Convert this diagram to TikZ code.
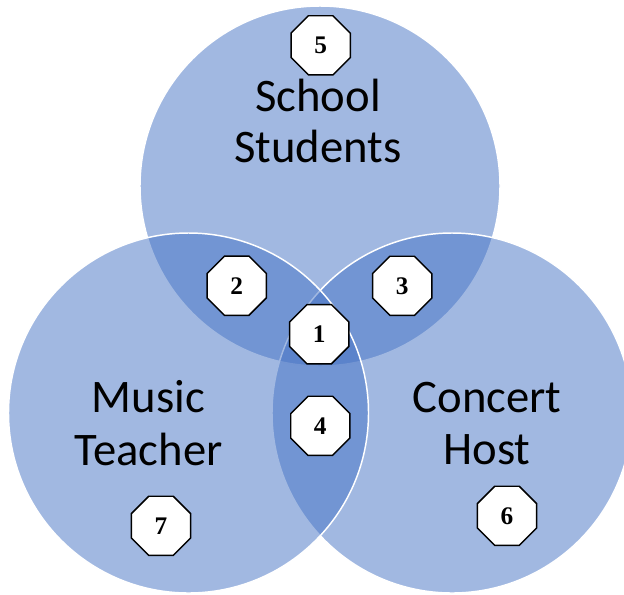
\documentclass[tikz,border=0pt]{standalone}
\usepackage{fontspec}
\setmainfont{Carlito}
\newfontfamily\numfont{Liberation Serif}
\usetikzlibrary{shapes.geometric}
\definecolor{vennblue}{HTML}{4472C4}
\begin{document}
\begin{tikzpicture}[x=0.75pt,y=-0.75pt,
  vennset/.style={fill=vennblue,fill opacity=0.5,draw=white,draw opacity=1,line width=1.1pt},
  lbl/.style={font=\fontsize{35}{38}\selectfont,anchor=base,inner sep=0pt,text=black},
  oct/.style={regular polygon,regular polygon sides=8,draw=black,line width=1.1pt,fill=white,
    inner sep=0pt,minimum size=48pt,font=\numfont\bfseries\fontsize{19}{20}\selectfont}]
\useasboundingbox (0,0) rectangle (624,594);
% sets
\path[vennset] (320,186) circle[radius=180];
\path[vennset] (452,413) circle[radius=180];
\path[vennset] (188.5,413) circle[radius=180];
% labels
\node[lbl] (ss1) at (318,111) {School};
\node[lbl] (ss2) at (318,162.5) {Students};
\node[lbl] (mt1) at (148.5,412.5) {Music};
\node[lbl] (mt2) at (148.5,465) {Teacher};
\node[lbl] (ch1) at (487,412.5) {Concert};
\node[lbl] (ch2) at (487,464.5) {Host};
% numbered octagons
\node[oct] (n1) at (319.2,334.2) {1};
\node[oct] (n2) at (236.7,285.7) {2};
\node[oct] (n3) at (402.2,285.8) {3};
\node[oct] (n4) at (320.3,425.8) {4};
\node[oct] (n5) at (320.7,45.3) {5};
\node[oct] (n6) at (507,515.8) {6};
\node[oct] (n7) at (161,525.8) {7};
\end{tikzpicture}
\end{document}
